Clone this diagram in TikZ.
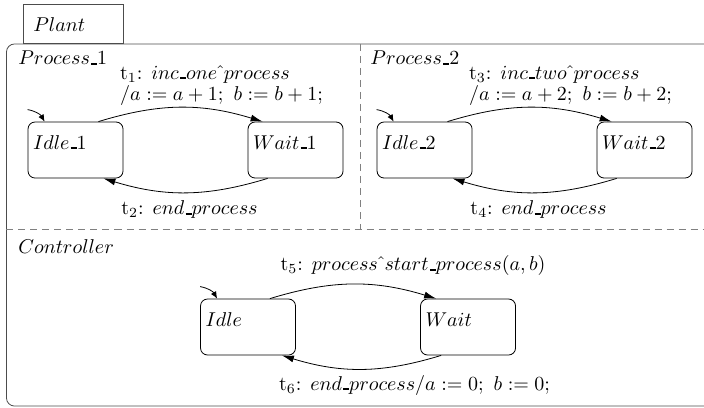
\documentclass[tikz,border=0pt]{standalone}
\usetikzlibrary{arrows.meta}
\newcommand{\ulbar}{\kern.06em\vbox{\hrule height 1.1pt width .3em}}

\begin{document}
\begin{tikzpicture}[
    statebox/.style={draw, rounded corners=3.5pt, minimum width=47.5pt, minimum height=28pt,
      text width=42.5pt, inner xsep=2.5pt, inner ysep=2pt, text height=11.5pt, text depth=12.5pt, align=left},
    region/.style={anchor=base west, inner sep=0pt},
    trans/.style={-{Latex[length=6pt,width=3.5pt]}},
    init/.style={-{Latex[length=3.5pt,width=3pt]}},
    divider/.style={draw=black!50, dash pattern=on 3.5pt off 2.5pt},
    translabel/.style={align=left, inner sep=1pt}
  ]
    \useasboundingbox (0,0) rectangle (12.37,-7.152);
    % outer frame and tab
    \draw[black!70, rounded corners=4pt] (0.114,-0.773) rectangle (13,-7.135);
    \node[draw=black!70, anchor=south west, minimum width=50pt, minimum height=19.5pt,
      text width=40pt, inner xsep=5pt, align=left] (plant) at (0.404,-0.773) {$Plant$};
    \draw[divider] (6.326,-0.773) -- (6.326,-4.024);
    \draw[divider] (0.114,-4.024) -- (13,-4.024);

    % Process_1
    \node[region] (proc1) at (0.316,-1.142) {$Process\ulbar1$};
    \node[statebox] (idle1) at (1.327,-2.636) {$Idle\ulbar1$};
    \node[statebox] (wait1) at (5.193,-2.636) {$Wait\ulbar1$};
    \draw[init] ([yshift=6pt]idle1.north west) to[out=-10,in=120] ([xshift=8.5pt]idle1.north west);
    \draw[trans] ([xshift=-12.5pt]idle1.north east) to[bend left=17]
      node[translabel, midway, anchor=south, xshift=20.5pt]
      {t$_1$: $inc\ulbar one\hat{\ }process$\\[-1.5pt]$/a:=a+1;\ b:=b+1;$} ([xshift=7.5pt]wait1.north west);
    \draw[trans] ([xshift=10pt]wait1.south west) to[bend left=17]
      node[translabel, midway, anchor=north, yshift=-3pt, xshift=2pt]
      {t$_2$: $end\ulbar process$} ([xshift=-10pt]idle1.south east);

    % Process_2
    \node[region] (proc2) at (6.502,-1.142) {$Process\ulbar2$};
    \node[statebox] (idle2) at (7.460,-2.636) {$Idle\ulbar2$};
    \node[statebox] (wait2) at (11.326,-2.636) {$Wait\ulbar2$};
    \draw[init] ([yshift=6pt]idle2.north west) to[out=-10,in=120] ([xshift=8.5pt]idle2.north west);
    \draw[trans] ([xshift=-12.5pt]idle2.north east) to[bend left=17]
      node[translabel, midway, anchor=south, xshift=20.5pt]
      {t$_3$: $inc\ulbar two\hat{\ }process$\\[-1.5pt]$/a:=a+2;\ b:=b+2;$} ([xshift=7.5pt]wait2.north west);
    \draw[trans] ([xshift=10pt]wait2.south west) to[bend left=17]
      node[translabel, midway, anchor=north, yshift=-3pt, xshift=2pt]
      {t$_4$: $end\ulbar process$} ([xshift=-10pt]idle2.south east);

    % Controller
    \node[region] (ctrl) at (0.316,-4.446) {$Controller$};
    \node[statebox] (idle) at (4.358,-5.746) {$Idle$};
    \node[statebox] (wait) at (8.224,-5.746) {$Wait$};
    \draw[init] ([yshift=6pt]idle.north west) to[out=-10,in=120] ([xshift=8.5pt]idle.north west);
    \draw[trans] ([xshift=-13pt]idle.north east) to[bend left=17]
      node[translabel, midway, anchor=south, yshift=3pt, xshift=30pt]
      {t$_5$: $process\hat{\ }start\ulbar process(a,b)$} ([xshift=8pt]wait.north west);
    \draw[trans] ([xshift=10.5pt]wait.south west) to[bend left=17]
      node[translabel, midway, anchor=north, yshift=-2pt, xshift=26.5pt]
      {t$_6$: $end\ulbar process/a:=0;\ b:=0;$} ([xshift=-7pt]idle.south east);
  \end{tikzpicture}
\end{document}
